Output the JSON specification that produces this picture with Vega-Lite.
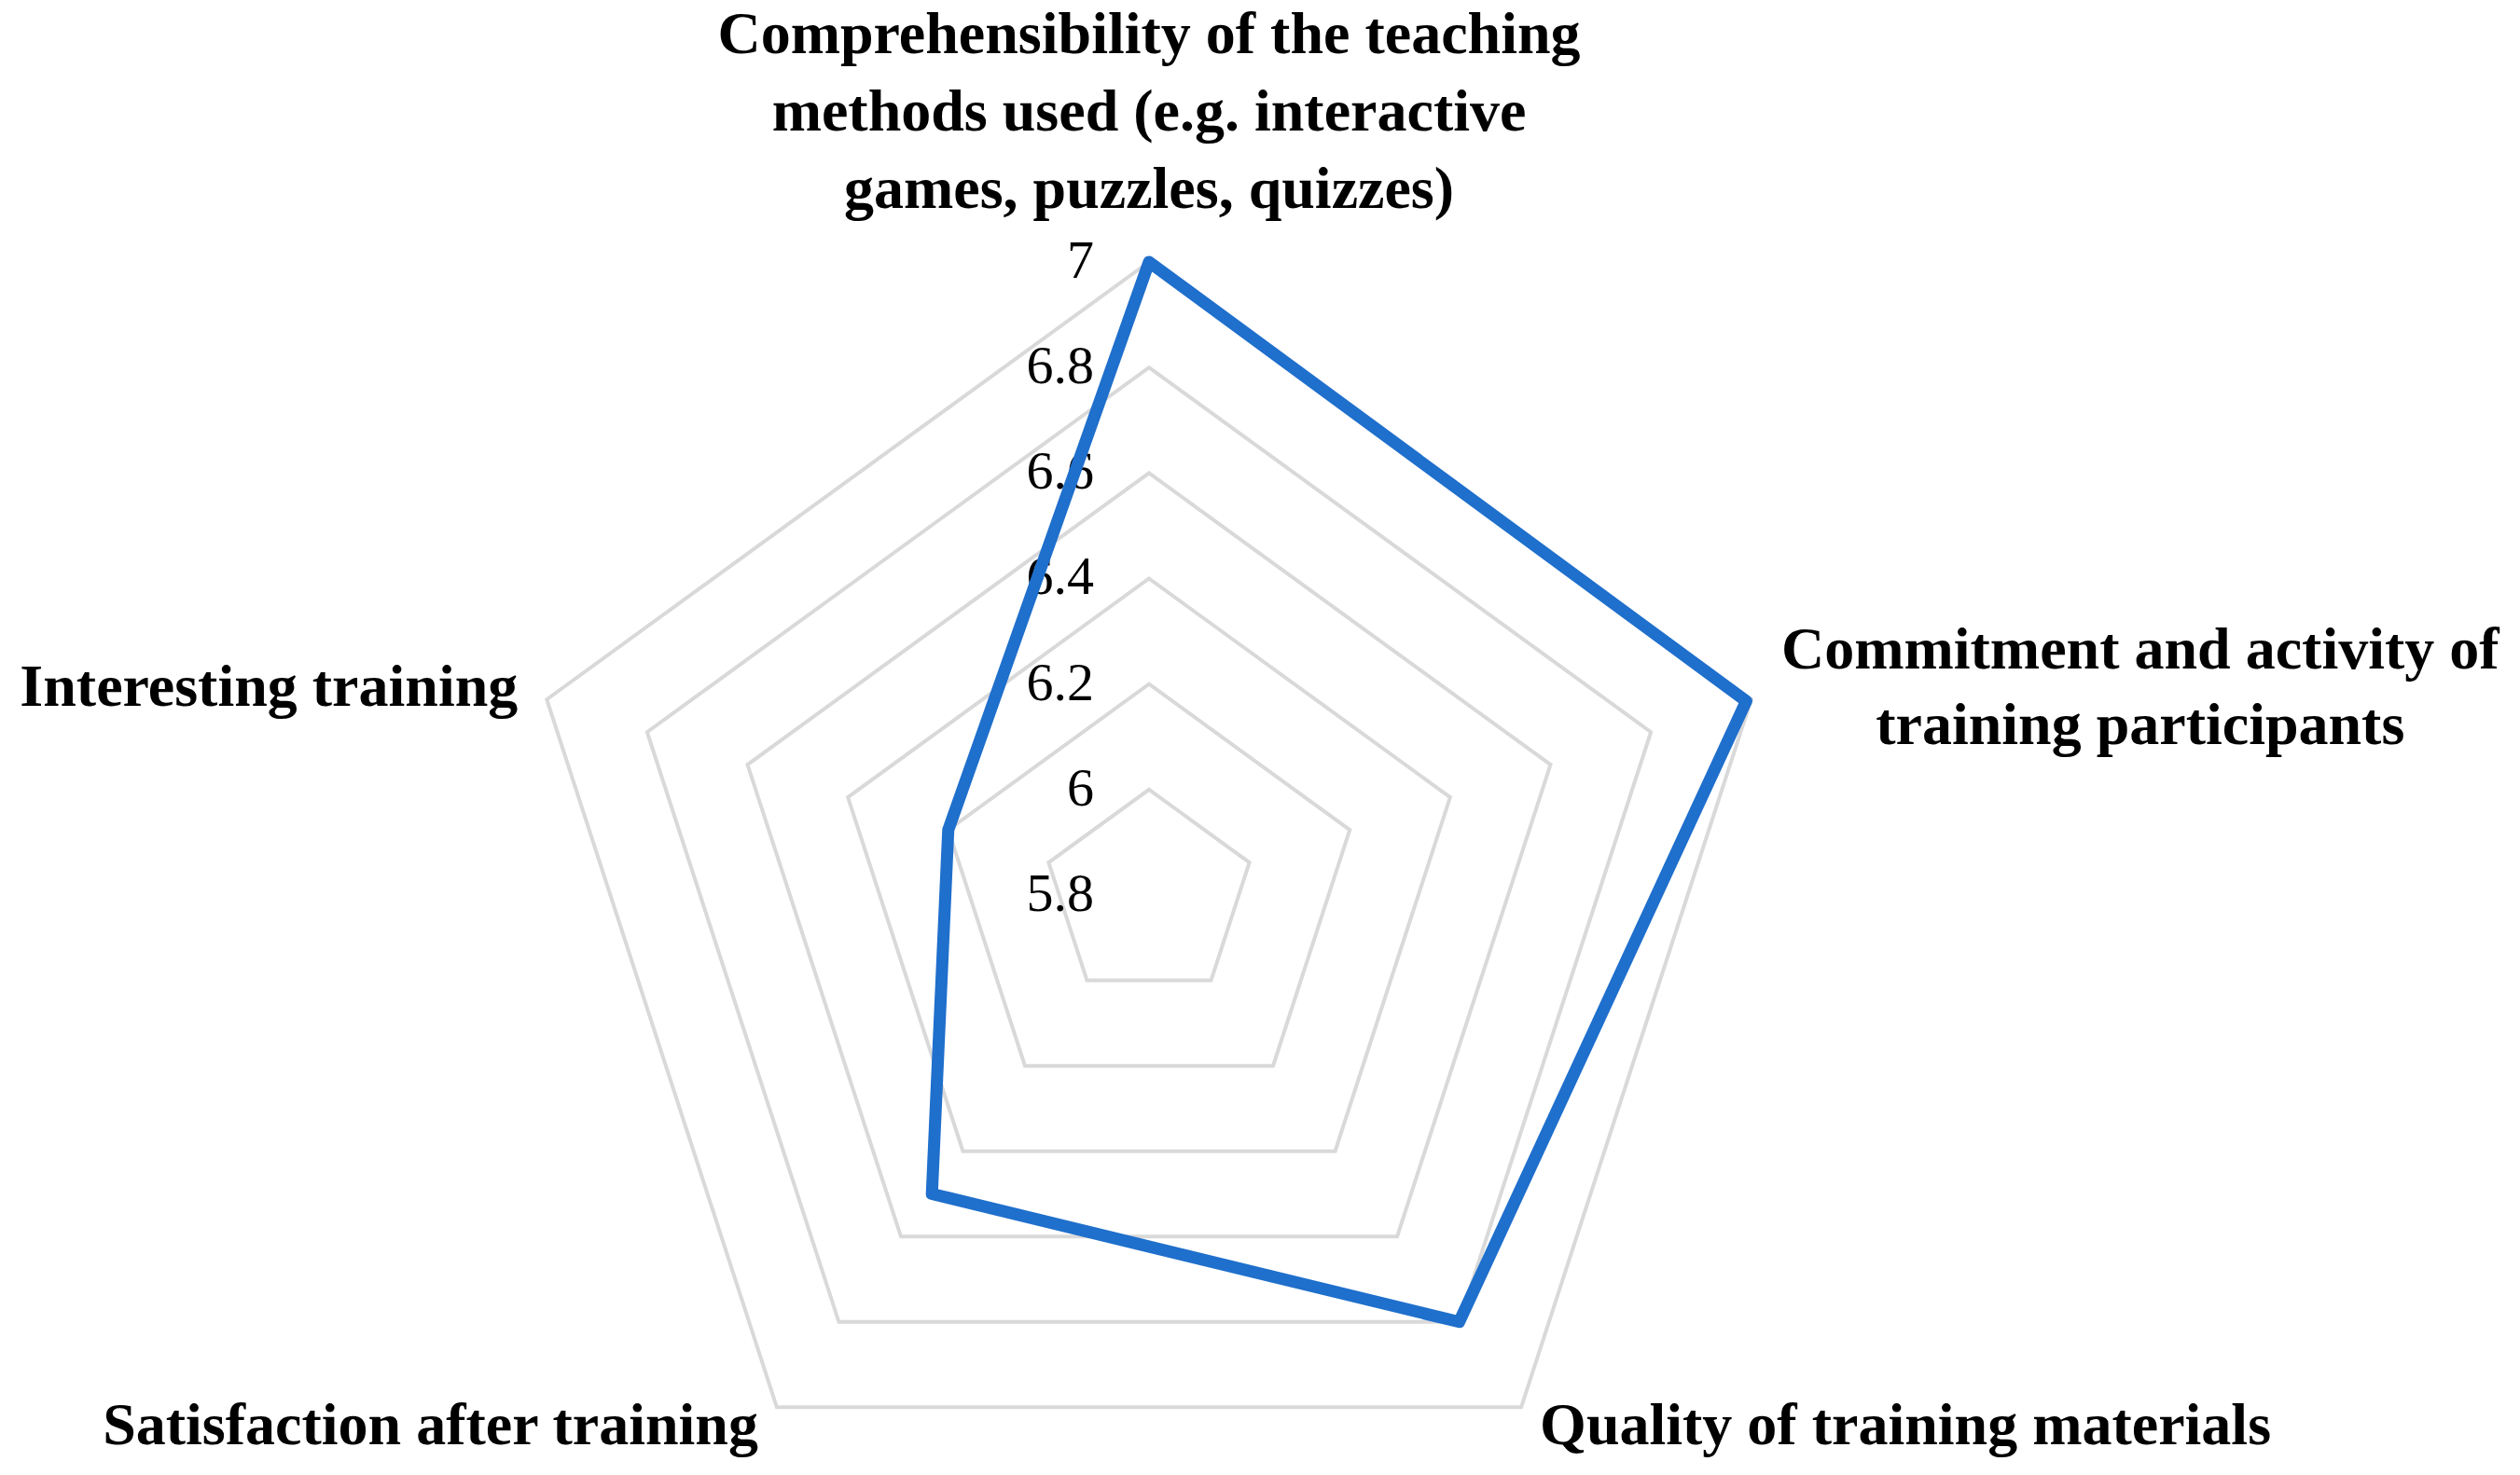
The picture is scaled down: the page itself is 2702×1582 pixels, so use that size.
{
  "$schema": "https://vega.github.io/schema/vega-lite/v6.json",
  "width": 2702,
  "height": 1582,
  "autosize": "none",
  "padding": 0,
  "background": "white",
  "config": {"view": {"stroke": null}},
  "datasets": {
    "scores": [
      {"k": 0, "category": "Comprehensibility of the teaching methods used (e.g. interactive games, puzzles, quizzes)", "label": "Comprehensibility of the teaching\nmethods used (e.g. interactive\ngames, puzzles, quizzes)", "value": 7.0},
      {"k": 1, "category": "Commitment and activity of training participants", "label": "Commitment and activity of\ntraining participants", "value": 6.99},
      {"k": 2, "category": "Quality of training materials", "label": "Quality of training materials", "value": 6.8},
      {"k": 3, "category": "Satisfaction after training", "label": "Satisfaction after training", "value": 6.5},
      {"k": 4, "category": "Interesting training", "label": "Interesting training", "value": 6.2}
    ],
    "grid": [
      {"level": 5.8, "k": [0, 1, 2, 3, 4]},
      {"level": 6.0, "k": [0, 1, 2, 3, 4]},
      {"level": 6.2, "k": [0, 1, 2, 3, 4]},
      {"level": 6.4, "k": [0, 1, 2, 3, 4]},
      {"level": 6.6, "k": [0, 1, 2, 3, 4]},
      {"level": 6.8, "k": [0, 1, 2, 3, 4]},
      {"level": 7.0, "k": [0, 1, 2, 3, 4]}
    ]
  },
  "layer": [
    {
      "data": {"name": "grid"},
      "transform": [
        {"flatten": ["k"]},
        {"filter": "datum.level > 5.85"},
        {"calculate": "(datum.level - 5.8) / 1.2 * sin(datum.k * 2 * PI / 5)", "as": "px"},
        {"calculate": "(datum.level - 5.8) / 1.2 * cos(datum.k * 2 * PI / 5)", "as": "py"}
      ],
      "mark": {"type": "line", "interpolate": "linear-closed", "stroke": "#D9D9D9", "strokeWidth": 4},
      "encoding": {
        "x": {"field": "px", "type": "quantitative", "scale": {"domain": [-1.8145, 2.165], "nice": false, "zero": false}, "axis": null},
        "y": {"field": "py", "type": "quantitative", "scale": {"domain": [-0.916, 1.4138], "nice": false, "zero": false}, "axis": null},
        "detail": {"field": "level", "type": "nominal"},
        "order": {"field": "k", "type": "quantitative"}
      }
    },
    {
      "data": {"name": "grid"},
      "transform": [
        {"flatten": ["k"]},
        {"filter": "datum.k == 0"},
        {"calculate": "(datum.level - 5.8) / 1.2 * sin(datum.k * 2 * PI / 5)", "as": "px"},
        {"calculate": "(datum.level - 5.8) / 1.2 * cos(datum.k * 2 * PI / 5)", "as": "py"}
      ],
      "mark": {"type": "text", "align": "right", "baseline": "middle", "dx": -59, "font": "Liberation Serif", "fontSize": 58, "color": "#000000"},
      "encoding": {
        "x": {"field": "px", "type": "quantitative"},
        "y": {"field": "py", "type": "quantitative"},
        "text": {"field": "level", "type": "quantitative"}
      }
    },
    {
      "data": {"name": "scores"},
      "transform": [
        {"calculate": "(datum.value - 5.8) / 1.2 * sin(datum.k * 2 * PI / 5)", "as": "px"},
        {"calculate": "(datum.value - 5.8) / 1.2 * cos(datum.k * 2 * PI / 5)", "as": "py"}
      ],
      "mark": {"type": "line", "interpolate": "linear-closed", "stroke": "#1F6FCC", "strokeWidth": 13, "strokeJoin": "round"},
      "encoding": {
        "x": {"field": "px", "type": "quantitative"},
        "y": {"field": "py", "type": "quantitative"},
        "order": {"field": "k", "type": "quantitative"}
      }
    },
    {
      "data": {"name": "scores"},
      "transform": [
        {"filter": "datum.k == 0"},
        {"calculate": "sin(datum.k * 2 * PI / 5)", "as": "px"},
        {"calculate": "cos(datum.k * 2 * PI / 5)", "as": "py"}
      ],
      "mark": {"type": "text", "align": "center", "baseline": "middle", "dy": -243, "lineBreak": "\n", "lineHeight": 83, "font": "Liberation Serif", "fontWeight": "bold", "fontSize": 64, "color": "#000000"},
      "encoding": {
        "x": {"field": "px", "type": "quantitative"},
        "y": {"field": "py", "type": "quantitative"},
        "text": {"field": "label", "type": "nominal"}
      }
    },
    {
      "data": {"name": "scores"},
      "transform": [
        {"filter": "datum.k == 1"},
        {"calculate": "sin(datum.k * 2 * PI / 5)", "as": "px"},
        {"calculate": "cos(datum.k * 2 * PI / 5)", "as": "py"}
      ],
      "mark": {"type": "text", "align": "center", "baseline": "middle", "dx": 417, "dy": -52, "lineBreak": "\n", "lineHeight": 81, "font": "Liberation Serif", "fontWeight": "bold", "fontSize": 64, "color": "#000000"},
      "encoding": {
        "x": {"field": "px", "type": "quantitative"},
        "y": {"field": "py", "type": "quantitative"},
        "text": {"field": "label", "type": "nominal"}
      }
    },
    {
      "data": {"name": "scores"},
      "transform": [
        {"filter": "datum.k == 2"},
        {"calculate": "sin(datum.k * 2 * PI / 5)", "as": "px"},
        {"calculate": "cos(datum.k * 2 * PI / 5)", "as": "py"}
      ],
      "mark": {"type": "text", "align": "left", "baseline": "middle", "dx": 20, "dy": 21, "font": "Liberation Serif", "fontWeight": "bold", "fontSize": 64, "color": "#000000"},
      "encoding": {
        "x": {"field": "px", "type": "quantitative"},
        "y": {"field": "py", "type": "quantitative"},
        "text": {"field": "label", "type": "nominal"}
      }
    },
    {
      "data": {"name": "scores"},
      "transform": [
        {"filter": "datum.k == 3"},
        {"calculate": "sin(datum.k * 2 * PI / 5)", "as": "px"},
        {"calculate": "cos(datum.k * 2 * PI / 5)", "as": "py"}
      ],
      "mark": {"type": "text", "align": "right", "baseline": "middle", "dx": -20, "dy": 21, "font": "Liberation Serif", "fontWeight": "bold", "fontSize": 64, "color": "#000000"},
      "encoding": {
        "x": {"field": "px", "type": "quantitative"},
        "y": {"field": "py", "type": "quantitative"},
        "text": {"field": "label", "type": "nominal"}
      }
    },
    {
      "data": {"name": "scores"},
      "transform": [
        {"filter": "datum.k == 4"},
        {"calculate": "sin(datum.k * 2 * PI / 5)", "as": "px"},
        {"calculate": "cos(datum.k * 2 * PI / 5)", "as": "py"}
      ],
      "mark": {"type": "text", "align": "right", "baseline": "middle", "dx": -31, "dy": -12, "font": "Liberation Serif", "fontWeight": "bold", "fontSize": 64, "color": "#000000"},
      "encoding": {
        "x": {"field": "px", "type": "quantitative"},
        "y": {"field": "py", "type": "quantitative"},
        "text": {"field": "label", "type": "nominal"}
      }
    }
  ]
}
